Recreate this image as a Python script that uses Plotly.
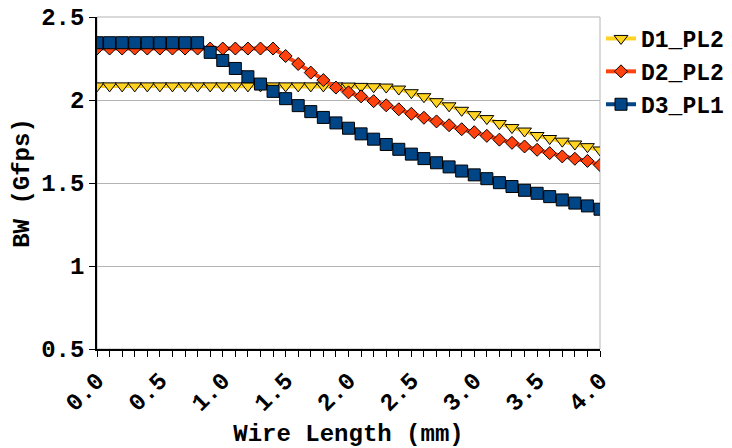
import plotly.graph_objects as go

wire_length = [0.0, 0.1, 0.2, 0.3, 0.4, 0.5, 0.6, 0.7, 0.8, 0.9,
               1.0, 1.1, 1.2, 1.3, 1.4, 1.5, 1.6, 1.7, 1.8, 1.9,
               2.0, 2.1, 2.2, 2.3, 2.4, 2.5, 2.6, 2.7, 2.8, 2.9,
               3.0, 3.1, 3.2, 3.3, 3.4, 3.5, 3.6, 3.7, 3.8, 3.9, 4.0]

d1_pl2 = [2.085, 2.085, 2.085, 2.085, 2.085, 2.085, 2.085, 2.085, 2.085, 2.085,
          2.085, 2.085, 2.085, 2.085, 2.085, 2.085, 2.085, 2.085, 2.085, 2.085,
          2.084, 2.082, 2.080, 2.078, 2.066, 2.044, 2.020, 1.990, 1.965, 1.938,
          1.912, 1.888, 1.858, 1.834, 1.813, 1.786, 1.768, 1.752, 1.735, 1.719, 1.699]

d2_pl2 = [2.31, 2.31, 2.31, 2.31, 2.31, 2.31, 2.31, 2.31, 2.31, 2.31,
          2.31, 2.31, 2.31, 2.31, 2.31, 2.265, 2.217, 2.165, 2.120, 2.075,
          2.046, 2.022, 1.993, 1.968, 1.944, 1.917, 1.893, 1.871, 1.848, 1.824,
          1.806, 1.784, 1.761, 1.742, 1.720, 1.700, 1.680, 1.660, 1.646, 1.633, 1.608]

d3_pl1 = [2.345, 2.345, 2.345, 2.345, 2.345, 2.345, 2.345, 2.345, 2.345, 2.287,
          2.238, 2.190, 2.140, 2.096, 2.052, 2.008, 1.966, 1.930, 1.895, 1.862,
          1.830, 1.796, 1.764, 1.732, 1.703, 1.674, 1.647, 1.622, 1.597, 1.572,
          1.549, 1.526, 1.502, 1.479, 1.456, 1.438, 1.418, 1.398, 1.379, 1.362, 1.342]

series_names = ["D1_PL2", "D2_PL2", "D3_PL1"]
series_values = [d1_pl2, d2_pl2, d3_pl1]
colors = ["#FFD320", "#FF420E", "#004586"]
symbols = ["triangle-down", "diamond", "square"]
marker_sizes = [12, 10, 12]

FONT = "Liberation Mono, Courier New, monospace"
FS = 24

fig = go.Figure()
for name, vals, col, sym, ms in zip(series_names, series_values, colors, symbols, marker_sizes):
    fig.add_trace(go.Scatter(
        x=wire_length, y=vals, name=name, mode="lines+markers",
        line=dict(color=col, width=4),
        marker=dict(symbol=sym, size=ms, color=col, line=dict(color="#000000", width=1)),
    ))

fig.add_shape(type="rect", xref="paper", yref="paper", x0=0, y0=0, x1=1, y1=1,
              line=dict(color="#b3b3b3", width=1), layer="below")

fig.update_layout(
    width=732, height=448,
    margin=dict(l=97, r=132, t=17, b=99, autoexpand=False),
    paper_bgcolor="white", plot_bgcolor="white",
    font=dict(family=FONT, size=FS, color="black", weight="bold"),
    showlegend=True,
    legend=dict(x=1.002, y=1.0, xanchor="left", yanchor="top",
                font=dict(family=FONT, size=23, weight="bold"),
                bgcolor="rgba(0,0,0,0)", itemwidth=30, tracegroupgap=0),
    xaxis=dict(
        range=[0, 4.0], tickmode="linear", tick0=0, dtick=0.5, tickformat=".1f",
        tickangle=-45, ticks="outside", ticklen=6, tickcolor="black", tickwidth=1,
        showline=True, linecolor="black", linewidth=1.5, showgrid=False, zeroline=False,
        automargin=False,
        minor=dict(tickmode="linear", tick0=0, dtick=0.1, ticks="outside", ticklen=6,
                   tickcolor="black", tickwidth=1, showgrid=False),
        title=dict(text="Wire Length (mm)", standoff=10,
                   font=dict(family=FONT, size=FS, weight="bold")),
        tickfont=dict(family=FONT, size=FS, weight="bold"),
    ),
    yaxis=dict(
        range=[0.5, 2.5], tickmode="linear", tick0=0.5, dtick=0.5,
        ticks="outside", ticklen=6, tickcolor="black", tickwidth=1,
        showline=True, linecolor="black", linewidth=1.5,
        showgrid=True, gridcolor="#b3b3b3", gridwidth=1, zeroline=False,
        automargin=False,
        title=dict(text="BW (Gfps)", standoff=5,
                   font=dict(family=FONT, size=FS, weight="bold")),
        tickfont=dict(family=FONT, size=FS, weight="bold"),
    ),
)

fig.write_html("out.html", config={"displayModeBar": False},
               post_script="document.body.style.margin='0';document.body.style.overflow='hidden';")
